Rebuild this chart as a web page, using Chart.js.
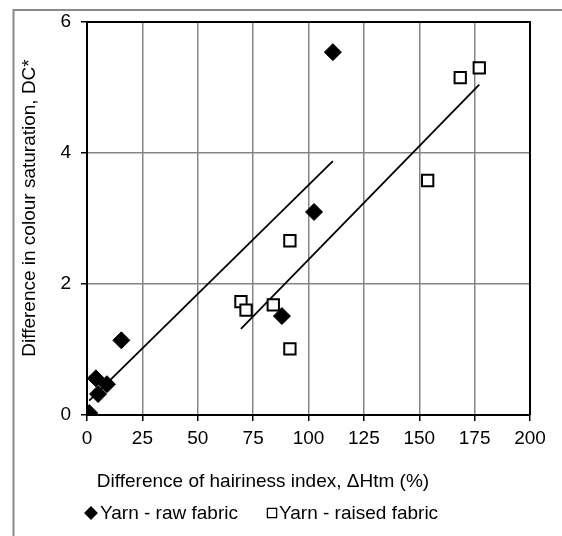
<!DOCTYPE html>
<html>
<head>
<meta charset="utf-8">
<script src="https://cdn.jsdelivr.net/npm/chart.js@4.4.1/dist/chart.umd.min.js"></script>
<style>
  html, body { margin: 0; padding: 0; background: #fff; }
  #wrap { width: 562px; height: 536px; position: relative; }
</style>
</head>
<body>
<div id="wrap"><canvas id="c" width="562" height="536"></canvas></div>
<script>
// Hairiness difference (x, %) vs colour saturation difference (y, DC*)
const rawX    = [1, 4, 5, 9, 15.5, 88, 102.5, 111];
const rawY    = [0.03, 0.56, 0.32, 0.47, 1.14, 1.51, 3.10, 5.54];
const raisedX = [69.5, 71.8, 84.1, 91.6, 91.6, 153.8, 168.5, 177.1];
const raisedY = [1.73, 1.60, 1.68, 1.01, 2.66, 3.58, 5.15, 5.30];

const seriesNames = ['Yarn - raw fabric', 'Yarn - raised fabric'];
const xTitle = 'Difference of hairiness index, \u0394Htm (%)';
const yTitle = 'Difference in colour saturation, DC*';
const xTicks = [0, 25, 50, 75, 100, 125, 150, 175, 200];
const yTicks = [0, 2, 4, 6];

const FONT = '"Liberation Sans", Arial, sans-serif';

function toPoints(xs, ys) { return xs.map((x, i) => ({ x, y: ys[i] })); }

// least-squares trend line spanning the series' x range
function trend(xs, ys) {
  const n = xs.length;
  const mx = xs.reduce((a, b) => a + b, 0) / n;
  const my = ys.reduce((a, b) => a + b, 0) / n;
  let sxy = 0, sxx = 0;
  for (let i = 0; i < n; i++) { sxy += (xs[i] - mx) * (ys[i] - my); sxx += (xs[i] - mx) ** 2; }
  const b = sxy / sxx, a = my - b * mx;
  const x0 = Math.min(...xs), x1 = Math.max(...xs);
  return [{ x: x0, y: a + b * x0 }, { x: x1, y: a + b * x1 }];
}

const PLOT = { left: 87, top: 22, right: 530, bottom: 415 };

const decor = {
  id: 'decor',
  beforeDraw(chart) {
    const ctx = chart.ctx;
    ctx.save();
    // outer frame
    ctx.strokeStyle = '#8a8a8a';
    ctx.lineWidth = 2;
    ctx.beginPath();
    ctx.moveTo(13.5, 562);
    ctx.lineTo(13.5, 10);
    ctx.lineTo(562, 10);
    ctx.stroke();
    ctx.restore();
  },
  afterDatasetsDraw(chart) {
    const ctx = chart.ctx;
    const a = chart.chartArea;
    ctx.save();
    // plot box on top/right
    ctx.strokeStyle = '#000';
    ctx.lineWidth = 2;
    ctx.beginPath();
    ctx.moveTo(a.left, a.top);
    ctx.lineTo(a.right, a.top);
    ctx.lineTo(a.right, a.bottom);
    ctx.stroke();

    ctx.fillStyle = '#000';
    ctx.font = '19px ' + FONT;
    ctx.textBaseline = 'middle';
    // axis titles
    ctx.textAlign = 'center';
    ctx.fillText(xTitle, 263, 482);
    ctx.save();
    ctx.translate(30, 208);
    ctx.rotate(-Math.PI / 2);
    ctx.fillText(yTitle, 0, 0);
    ctx.restore();

    // legend
    ctx.textAlign = 'left';
    Chart.helpers.drawPoint(ctx, { pointStyle: 'rectRot', radius: 5.5, borderWidth: 1 }, 91, 513);
    ctx.fillStyle = '#000';
    ctx.fillText(seriesNames[0], 100, 514);
    ctx.fillStyle = '#fff';
    ctx.strokeStyle = '#000';
    ctx.lineWidth = 1.3;
    Chart.helpers.drawPoint(ctx, { pointStyle: 'rect', radius: 6.5, borderWidth: 1.3 }, 272, 513);
    ctx.fillStyle = '#000';
    ctx.fillText(seriesNames[1], 279, 514);
    ctx.restore();
  }
};

new Chart(document.getElementById('c'), {
  type: 'scatter',
  data: {
    datasets: [
      {
        label: seriesNames[0],
        data: toPoints(rawX, rawY),
        pointStyle: 'rectRot',
        pointRadius: 8.5,
        pointHoverRadius: 8.5,
        backgroundColor: '#000',
        borderColor: '#000',
        borderWidth: 1,
        order: 1
      },
      {
        label: seriesNames[1],
        data: toPoints(raisedX, raisedY),
        pointStyle: 'rect',
        pointRadius: 8,
        pointHoverRadius: 8,
        backgroundColor: '#fff',
        borderColor: '#000',
        borderWidth: 2,
        order: 1
      },
      {
        label: 'trend raw',
        data: trend(rawX, rawY),
        showLine: true,
        pointRadius: 0,
        borderColor: '#000',
        borderWidth: 1.8,
        order: 2
      },
      {
        label: 'trend raised',
        data: trend(raisedX, raisedY),
        showLine: true,
        pointRadius: 0,
        borderColor: '#000',
        borderWidth: 1.8,
        order: 2
      }
    ]
  },
  options: {
    responsive: false,
    animation: false,
    layout: { padding: { left: 0, top: PLOT.top, right: 562 - PLOT.right, bottom: 0 } },
    plugins: { legend: { display: false }, tooltip: { enabled: false } },
    scales: {
      x: {
        type: 'linear',
        min: 0, max: 200,
        afterBuildTicks(s) { s.ticks = xTicks.map(v => ({ value: v })); },
        afterFit(s) { s.height = 536 - PLOT.bottom; },
        ticks: { color: '#000', font: { family: FONT, size: 19 }, padding: 6, maxRotation: 0 },
        grid: { color: '#858585', lineWidth: 1.5, tickLength: 6, tickColor: '#000', tickWidth: 1.5 },
        border: { display: true, color: '#000', width: 2 }
      },
      y: {
        type: 'linear',
        min: 0, max: 6,
        afterBuildTicks(s) { s.ticks = yTicks.map(v => ({ value: v })); },
        afterFit(s) { s.width = PLOT.left; },
        ticks: { color: '#000', font: { family: FONT, size: 19 }, padding: 10 },
        grid: { color: '#858585', lineWidth: 1.5, tickLength: 6, tickColor: '#000', tickWidth: 1.5 },
        border: { display: true, color: '#000', width: 2 }
      }
    }
  },
  plugins: [decor]
});
</script>
</body>
</html>
